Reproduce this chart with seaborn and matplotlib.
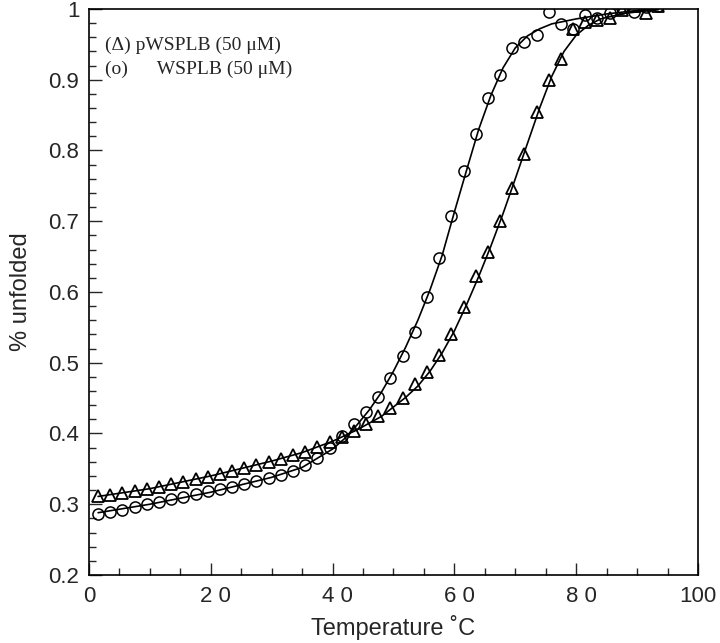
import numpy as np
import pandas as pd
import matplotlib
matplotlib.use("Agg")
import matplotlib.pyplot as plt
import matplotlib.transforms as mtransforms
import seaborn as sns
from matplotlib.ticker import MultipleLocator

# measured points (same temperatures for both samples)
temp = [1.5, 3.5, 5.5, 7.5, 9.5, 11.5, 13.5, 15.5, 17.5, 19.5, 21.5, 23.5,
        25.5, 27.5, 29.5, 31.5, 33.5, 35.5, 37.5, 39.5, 41.5, 43.5, 45.5, 47.5,
        49.5, 51.5, 53.5, 55.5, 57.5, 59.5, 61.5, 63.5, 65.5, 67.5, 69.5, 71.5,
        73.5, 75.5, 77.5, 79.5, 81.5, 83.5, 85.5, 87.5, 89.5, 91.5, 93.5]

wsplb = [0.286, 0.289, 0.292, 0.296, 0.300, 0.303, 0.307, 0.310, 0.314, 0.318,
         0.321, 0.325, 0.329, 0.333, 0.337, 0.342, 0.347, 0.356, 0.366, 0.380,
         0.397, 0.413, 0.431, 0.452, 0.479, 0.509, 0.544, 0.593, 0.648, 0.707,
         0.771, 0.824, 0.874, 0.907, 0.945, 0.954, 0.963, 0.996, 0.979, 0.972,
         0.991, 0.987, 0.995, 1.001, 0.996, 1.003, 1.004]

pwsplb = [0.311, 0.313, 0.316, 0.318, 0.321, 0.324, 0.328, 0.332, 0.335, 0.339,
          0.343, 0.347, 0.351, 0.355, 0.360, 0.364, 0.369, 0.374, 0.381, 0.388,
          0.395, 0.404, 0.414, 0.425, 0.436, 0.450, 0.470, 0.487, 0.511, 0.541,
          0.579, 0.623, 0.656, 0.700, 0.747, 0.795, 0.855, 0.899, 0.930, 0.972,
          0.981, 0.985, 0.987, 0.999, 1.004, 0.995, 1.004]

# fitted curves
fit_t_wsplb = [1.5, 10, 20, 30, 35, 40, 42, 44, 46, 48, 50, 52, 54, 56, 58, 60,
               62, 64, 66, 68, 70, 72, 74, 76, 80, 85, 90, 93.5]
fit_wsplb = [0.288, 0.300, 0.317, 0.338, 0.352, 0.378, 0.393, 0.412, 0.433,
             0.458, 0.488, 0.522, 0.560, 0.603, 0.652, 0.713, 0.772, 0.830,
             0.878, 0.917, 0.945, 0.962, 0.972, 0.979, 0.986, 0.993, 0.998, 1.000]

fit_t_pwsplb = [1.5, 10, 20, 30, 35, 40, 44, 48, 52, 54, 56, 58, 60, 62, 64, 66,
                68, 70, 72, 74, 76, 78, 80, 82, 84, 88, 93.5]
fit_pwsplb = [0.311, 0.322, 0.340, 0.361, 0.373, 0.389, 0.405, 0.424, 0.451,
              0.467, 0.488, 0.514, 0.545, 0.582, 0.622, 0.665, 0.711, 0.760,
              0.810, 0.860, 0.905, 0.940, 0.963, 0.977, 0.986, 0.994, 0.999]

x_ticks = [0, 20, 40, 60, 80, 100]
x_labels = ["0", "2 0", "4 0", "6 0", "8 0", "100"]
y_ticks = [0.2, 0.3, 0.4, 0.5, 0.6, 0.7, 0.8, 0.9, 1.0]
y_labels = ["0.2", "0.3", "0.4", "0.5", "0.6", "0.7", "0.8", "0.9", "1"]

sns.set_style("ticks")
plt.rcParams["font.family"] = ["Liberation Sans", "DejaVu Sans"]

fig = plt.figure(figsize=(7.2, 6.43), dpi=100)
ax = fig.add_axes([0.1236, 0.1058, 0.8458, 0.8802])

sns.lineplot(x=fit_t_wsplb, y=fit_wsplb, color="black", linewidth=1.2, ax=ax)
sns.lineplot(x=fit_t_pwsplb, y=fit_pwsplb, color="black", linewidth=1.2, ax=ax)

pts = pd.DataFrame({"temp": temp, "wsplb": wsplb, "pwsplb": pwsplb})
sns.lineplot(data=pts, x="temp", y="wsplb", linestyle="", marker="o",
             markersize=8, markerfacecolor="none", markeredgecolor="black",
             markeredgewidth=1.1, ax=ax)
sns.lineplot(data=pts, x="temp", y="pwsplb", linestyle="", marker="^",
             markersize=8.5, markerfacecolor="none", markeredgecolor="black",
             markeredgewidth=1.3, ax=ax)

ax.set_xlim(0, 100)
ax.set_ylim(0.2, 1.0)
ax.set_xticks(x_ticks)
ax.set_xticklabels(x_labels)
ax.set_yticks(y_ticks)
ax.set_yticklabels(y_labels)
ax.xaxis.set_minor_locator(MultipleLocator(5))
ax.yaxis.set_minor_locator(MultipleLocator(0.02))
ax.tick_params(which="both", direction="in", top=False, right=False,
               labelsize=16, width=1)
ax.tick_params(axis="y", pad=7)
ax.tick_params(axis="x", pad=8)
ax.tick_params(which="major", length=9)
ax.tick_params(which="minor", length=5)
for sp in ax.spines.values():
    sp.set_linewidth(1.2)
    sp.set_color("black")

# the spaced two-digit labels sit a little right of their ticks
shift = mtransforms.ScaledTranslation(5 / 100, 0, fig.dpi_scale_trans)
for lab in ax.get_xticklabels()[1:5]:
    lab.set_transform(lab.get_transform() + shift)

ax.set_xlabel("Temperature ˚C", fontsize=17, labelpad=6)
ax.set_ylabel("% unfolded", fontsize=17, labelpad=12)

ax.text(2.6, 0.949, "(Δ) pWSPLB (50 μM)", fontsize=14,
        family=["Liberation Serif", "DejaVu Serif"], va="center")
ax.text(2.6, 0.914, "(o)      WSPLB (50 μM)", fontsize=14,
        family=["Liberation Serif", "DejaVu Serif"], va="center")

fig.savefig("out.png", dpi=100)
